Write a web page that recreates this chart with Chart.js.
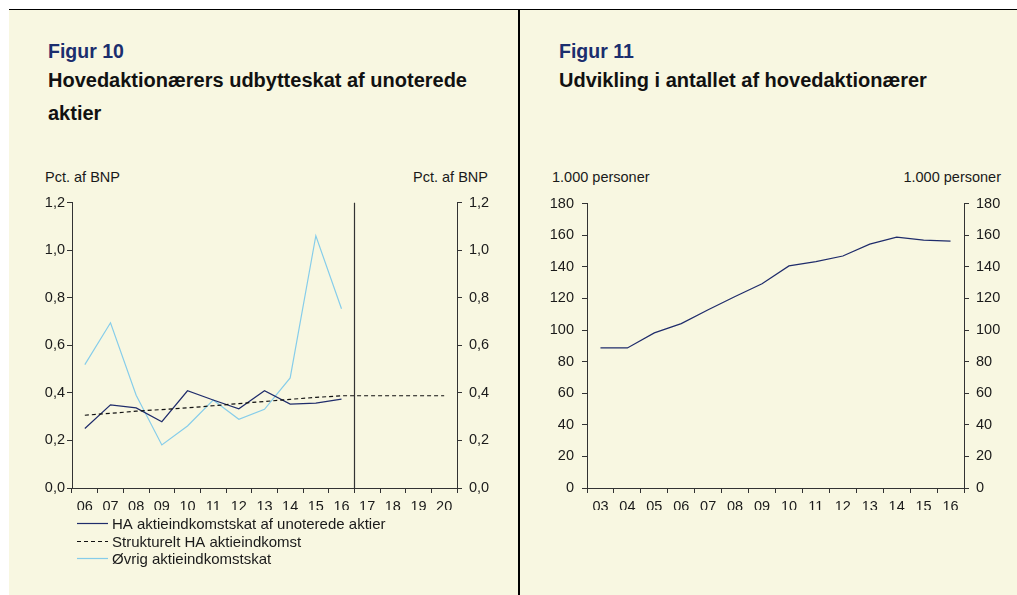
<!DOCTYPE html>
<html>
<head>
<meta charset="utf-8">
<script src="https://cdn.jsdelivr.net/npm/chart.js@4"></script>
<style>
  body { margin: 0; background: #fff; width: 1017px; height: 595px; position: relative; overflow: hidden; font-family: "Liberation Sans", Arial, sans-serif; }
  #panel { position: absolute; left: 9px; top: 9px; width: 1008px; height: 586px; background: #f8f7e1; border-top: 1.5px solid #000; box-sizing: border-box; }
  #divider { position: absolute; left: 518px; top: 9px; width: 1.5px; height: 586px; background: #000; }
  .txt { position: absolute; white-space: nowrap; line-height: 1; }
  .fig { font-size: 19.5px; font-weight: bold; color: #1b2e6e; }
  .head { font-size: 20px; font-weight: bold; color: #111; }
  .unit { font-size: 14.5px; color: #1a1a1a; }
  .box { position: absolute; }
</style>
</head>
<body>
<div id="panel"></div>
<div id="divider"></div>

<div class="txt fig" style="left:48px; top:41.5px;">Figur 10</div>
<div class="txt head" style="left:48px; top:70px;">Hovedaktionærers udbytteskat af unoterede</div>
<div class="txt head" style="left:48px; top:103px;">aktier</div>
<div class="txt fig" style="left:559px; top:41.5px;">Figur 11</div>
<div class="txt head" style="left:559px; top:70px;">Udvikling i antallet af hovedaktionærer</div>

<div class="txt unit" style="left:45px; top:169.5px;">Pct. af BNP</div>
<div class="txt unit" style="right:529px; top:169.5px;">Pct. af BNP</div>
<div class="txt unit" style="left:552px; top:169.5px;">1.000 personer</div>
<div class="txt unit" style="right:16px; top:169.5px;">1.000 personer</div>

<div class="box" style="left:9px; top:187px; width:510px; height:393px;"><canvas id="fig10"></canvas></div>
<div class="box" style="left:519px; top:187px; width:498px; height:323px;"><canvas id="fig11"></canvas></div>

<script>
// Figur 10
const years10 = ['06', '07', '08', '09', '10', '11', '12', '13', '14', '15', '16', '17', '18', '19', '20'];
const haSkat = [0.25, 0.35, 0.337, 0.279, 0.409, 0.37, 0.333, 0.409, 0.353, 0.357, 0.374, null, null, null, null];
const strukturelt = [0.306, 0.314, 0.323, 0.33, 0.337, 0.346, 0.355, 0.364, 0.373, 0.381, 0.388, 0.388, 0.388, 0.388, 0.388];
const oevrigSkat = [0.519, 0.695, 0.39, 0.181, 0.261, 0.37, 0.289, 0.331, 0.463, 1.061, 0.754, null, null, null, null];
const yLabels10 = ['0,0', '0,2', '0,4', '0,6', '0,8', '1,0', '1,2'];

// Figur 11
const years11 = ['03', '04', '05', '06', '07', '08', '09', '10', '11', '12', '13', '14', '15', '16'];
const antalHA = [88.7, 88.7, 98.2, 104.1, 112.9, 121.3, 129.3, 140.6, 143.3, 146.9, 154.4, 158.8, 156.9, 156.3];
const yLabels11 = ['0', '20', '40', '60', '80', '100', '120', '140', '160', '180'];

const axisColor = '#333333';
const textColor = '#1a1a1a';
const tickFont = { family: '"Liberation Sans", Arial, sans-serif', size: 14.5 };

const xAxis = (pad) => ({
    type: 'category',
    offset: true,
    grid: { drawOnChartArea: false, drawTicks: true, tickLength: 5, offset: true, color: axisColor },
    border: { color: axisColor, width: 1 },
    ticks: { font: tickFont, color: textColor, padding: pad, maxRotation: 0, autoSkip: false },
    afterFit: (s) => { s.height = 22; },
});

const yAxis = (pos, max, step, labels, width, pad) => ({
    position: pos,
    min: 0,
    max: max,
    grid: { drawOnChartArea: false, drawTicks: true, tickLength: 5, color: axisColor },
    border: { color: axisColor, width: 1 },
    ticks: {
        stepSize: step,
        font: tickFont,
        color: textColor,
        padding: pad,
        callback: (v, i) => labels[i],
    },
    afterFit: (s) => { s.width = width; },
});

// lodret streg mellem 16 og 17
const splitLine = {
    id: 'splitLine',
    afterDatasetsDraw(chart) {
        const { ctx, chartArea, scales } = chart;
        const x = Math.round((scales.x.getPixelForValue(10) + scales.x.getPixelForValue(11)) / 2) + 0.5;
        ctx.save();
        ctx.strokeStyle = axisColor;
        ctx.lineWidth = 1.2;
        ctx.beginPath();
        ctx.moveTo(x, chartArea.top);
        ctx.lineTo(x, chartArea.bottom);
        ctx.stroke();
        ctx.restore();
    },
};

// legend under figuren, en linje per serie
const stackedLegend = {
    id: 'stackedLegend',
    afterDraw(chart) {
        const { ctx, chartArea } = chart;
        ctx.save();
        ctx.font = '15px "Liberation Sans", Arial, sans-serif';
        ctx.fillStyle = textColor;
        ctx.textBaseline = 'middle';
        chart.data.datasets.forEach((ds, i) => {
            const y = Math.round(chartArea.bottom + 35 + i * 17.5) + 0.5;
            const x0 = chartArea.left + 5;
            ctx.strokeStyle = ds.borderColor;
            ctx.lineWidth = ds.borderWidth;
            ctx.setLineDash(ds.borderDash || []);
            ctx.beginPath();
            ctx.moveTo(x0, y);
            ctx.lineTo(x0 + 31, y);
            ctx.stroke();
            ctx.fillText(ds.label, x0 + 35, y + 1);
        });
        ctx.restore();
    },
};

new Chart(document.querySelector('#fig10'), {
    type: 'line',
    data: {
        labels: years10,
        datasets: [
            {
                label: 'HA aktieindkomstskat af unoterede aktier',
                data: haSkat,
                borderColor: '#1f2c6b',
                borderWidth: 1.2,
                pointRadius: 0,
                tension: 0,
                order: 1,
            },
            {
                label: 'Strukturelt HA aktieindkomst',
                data: strukturelt,
                borderColor: '#111111',
                borderWidth: 1.2,
                borderDash: [4, 3],
                pointRadius: 0,
                tension: 0,
                order: 0,
            },
            {
                label: 'Øvrig aktieindkomstskat',
                data: oevrigSkat,
                borderColor: '#86cdea',
                borderWidth: 1.2,
                pointRadius: 0,
                tension: 0,
                order: 2,
            },
        ],
    },
    options: {
        responsive: true,
        maintainAspectRatio: false,
        animation: false,
        layout: { padding: { top: 10, left: 0, right: 0, bottom: 70 } },
        plugins: { legend: { display: false }, tooltip: { enabled: false } },
        scales: {
            x: xAxis(5),
            y: yAxis('left', 1.2, 0.2, yLabels10, 63, 2),
            y2: yAxis('right', 1.2, 0.2, yLabels10, 62, 7),
        },
    },
    plugins: [splitLine, stackedLegend],
});

new Chart(document.querySelector('#fig11'), {
    type: 'line',
    data: {
        labels: years11,
        datasets: [
            {
                label: 'Hovedaktionærer',
                data: antalHA,
                borderColor: '#1f2c6b',
                borderWidth: 1.2,
                pointRadius: 0,
                tension: 0,
            },
        ],
    },
    options: {
        responsive: true,
        maintainAspectRatio: false,
        animation: false,
        layout: { padding: { top: 10, left: 0, right: 0, bottom: 0 } },
        plugins: { legend: { display: false }, tooltip: { enabled: false } },
        scales: {
            x: xAxis(5),
            y: yAxis('left', 180, 20, yLabels11, 68, 8),
            y2: yAxis('right', 180, 20, yLabels11, 53, 7),
        },
    },
});
</script>
</body>
</html>
